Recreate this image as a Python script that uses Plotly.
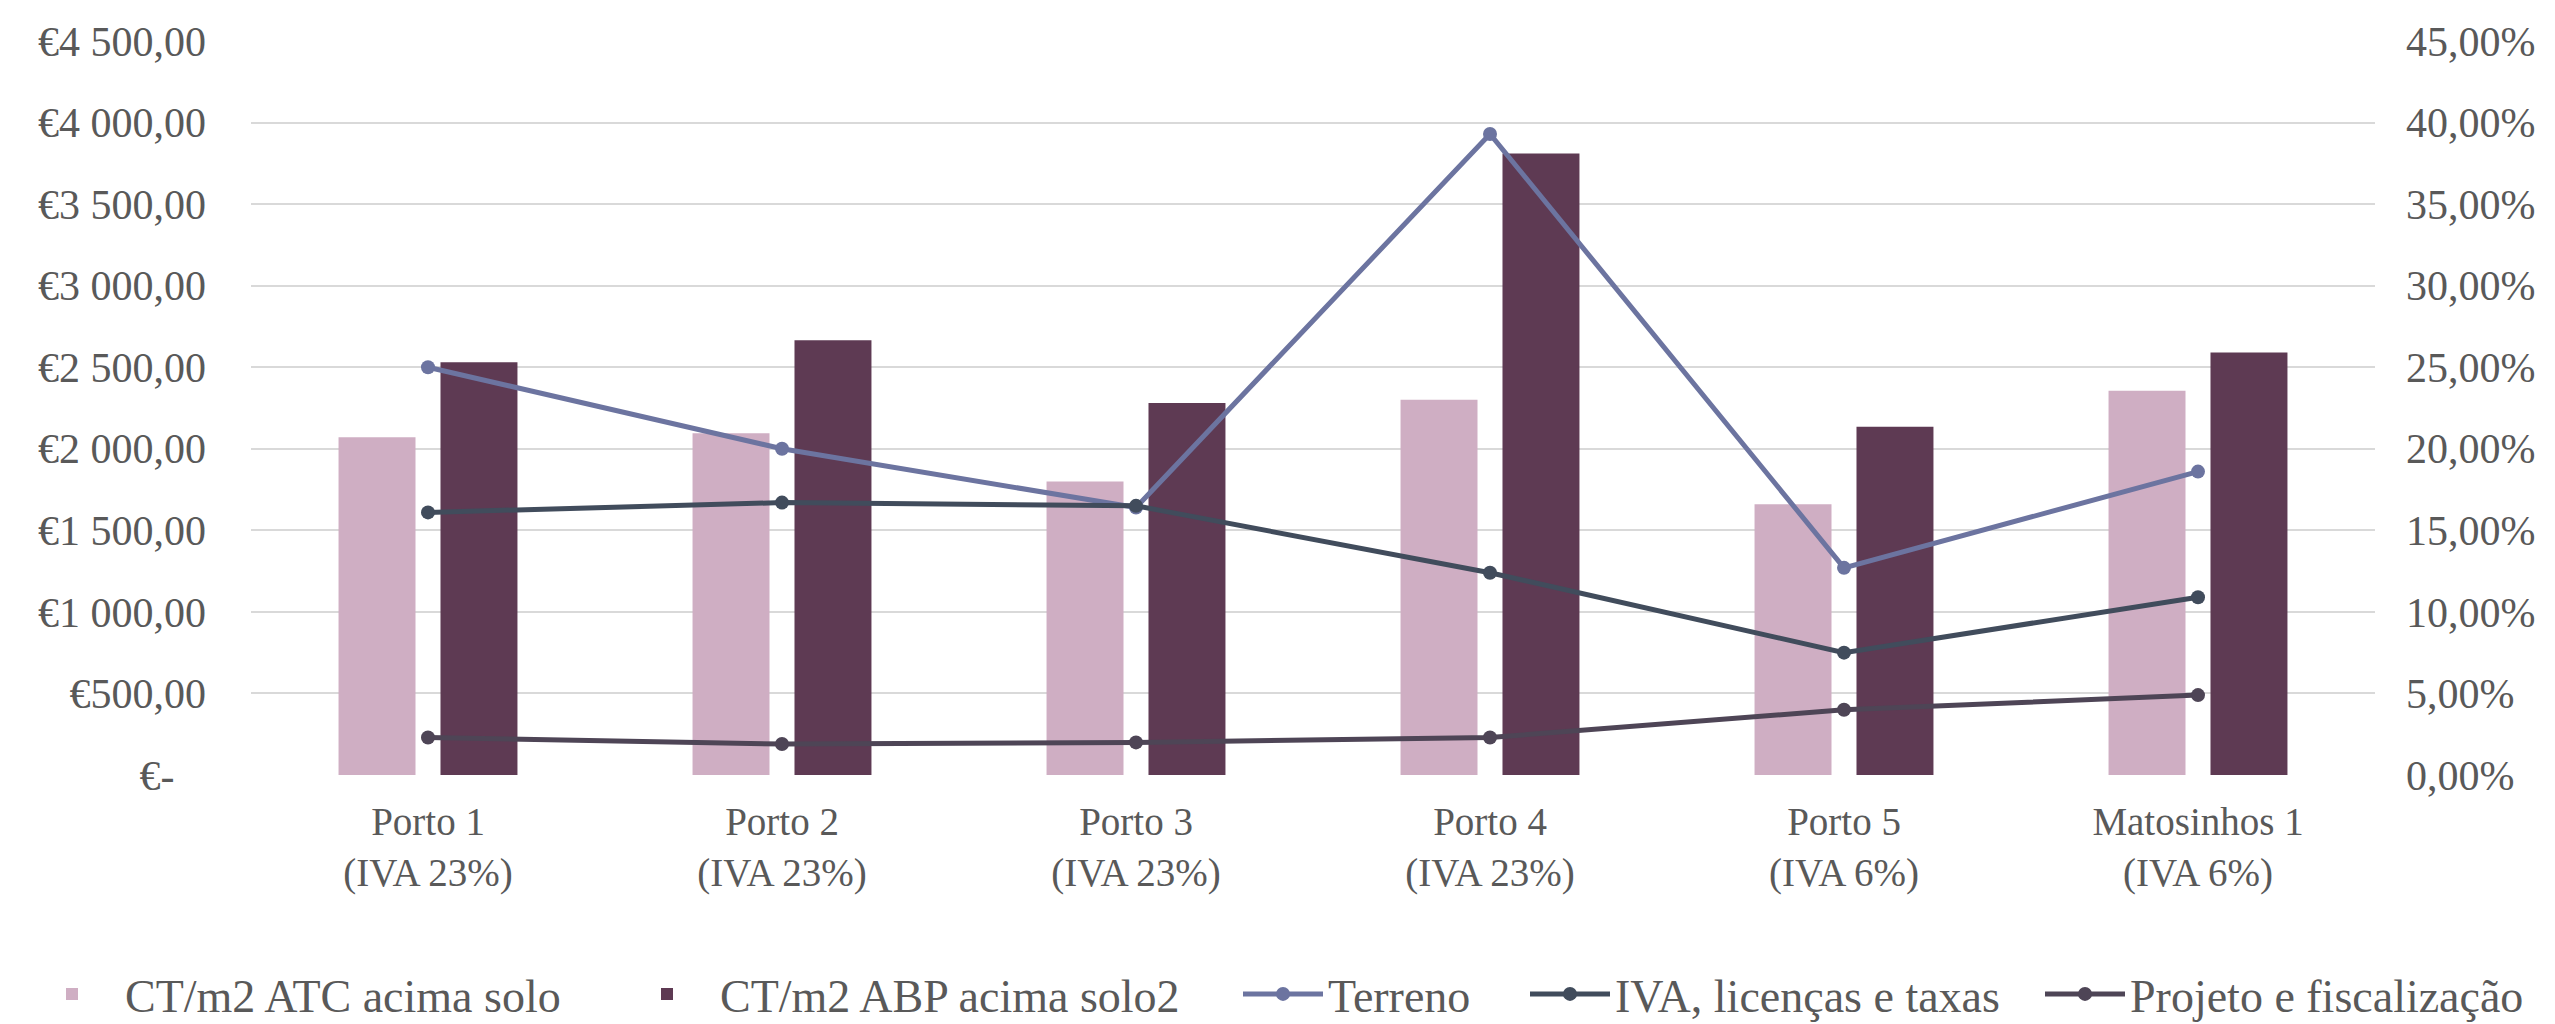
import plotly.graph_objects as go

# Categories (two-line tick labels)
categories = [
    "Porto 1<br>(IVA 23%)",
    "Porto 2<br>(IVA 23%)",
    "Porto 3<br>(IVA 23%)",
    "Porto 4<br>(IVA 23%)",
    "Porto 5<br>(IVA 6%)",
    "Matosinhos 1<br>(IVA 6%)",
]

# Cost per m2 (left axis, €)
ct_atc = [2070, 2095, 1800, 2300, 1660, 2355]
ct_abp = [2530, 2665, 2280, 3810, 2135, 2590]

# Cost shares (right axis, fraction)
terreno = [0.250, 0.200, 0.164, 0.393, 0.127, 0.186]
iva_licencas = [0.161, 0.167, 0.165, 0.124, 0.075, 0.109]
projeto = [0.023, 0.019, 0.020, 0.023, 0.040, 0.049]

# Axis ticks
left_tickvals = [0, 500, 1000, 1500, 2000, 2500, 3000, 3500, 4000, 4500]
left_ticktext = ["€-\u00a0\u00a0\u00a0", "€500,00", "€1 000,00", "€1 500,00", "€2 000,00",
                 "€2 500,00", "€3 000,00", "€3 500,00", "€4 000,00", "€4 500,00"]
right_tickvals = [0, 0.05, 0.10, 0.15, 0.20, 0.25, 0.30, 0.35, 0.40, 0.45]
right_ticktext = ["0,00%", "5,00%", "10,00%", "15,00%", "20,00%",
                  "25,00%", "30,00%", "35,00%", "40,00%", "45,00%"]

W, H = 2555, 1024
FONT = "Liberation Serif"
TXT = "#595959"
TICK_SIZE = 42
XTICK_SIZE = 39
LEG_SIZE = 46

fig = go.Figure()

fig.add_trace(go.Bar(
    x=categories, y=ct_atc, name="CT/m2 ATC acima solo", legend="legend",
    marker=dict(color="#CFAEC3", line=dict(width=0)),
))
fig.add_trace(go.Bar(
    x=categories, y=ct_abp, name="CT/m2 ABP acima solo2", legend="legend2",
    marker=dict(color="#5E3A53", line=dict(width=0)),
))

line_specs = [
    ("Terreno", terreno, "#6C74A0", "legend3"),
    ("IVA, licenças e taxas", iva_licencas, "#414C5C", "legend4"),
    ("Projeto e fiscalização", projeto, "#4E4556", "legend5"),
]
for name, vals, col, leg in line_specs:
    fig.add_trace(go.Scatter(
        x=categories, y=vals, name=name, yaxis="y2", legend=leg,
        mode="lines+markers",
        line=dict(color=col, width=5),
        marker=dict(color=col, size=14, symbol="circle"),
    ))


def legend_box(left_px, item_w):
    """One single-entry legend, placed by its left edge in pixels."""
    return dict(
        orientation="h", xref="container", yref="container",
        x=left_px / W, xanchor="left", y=1 - 994 / H, yanchor="middle",
        font=dict(family=FONT, size=LEG_SIZE, color=TXT),
        itemwidth=item_w, bgcolor="rgba(0,0,0,0)", borderwidth=0,
    )


fig.update_layout(
    width=W, height=H,
    margin=dict(l=251, r=180, t=41, b=249, autoexpand=False),
    paper_bgcolor="white", plot_bgcolor="white",
    font=dict(family=FONT, size=TICK_SIZE, color=TXT),
    barmode="group", bargap=0.424, bargroupgap=0.245,
    showlegend=True,
    legend=legend_box(19, 96),
    legend2=legend_box(614, 96),
    legend3=legend_box(1238, 80),
    legend4=legend_box(1525, 80),
    legend5=legend_box(2040, 80),
    xaxis=dict(
        showgrid=False, showline=False, zeroline=False,
        ticks="", ticklabelstandoff=20,
        tickfont=dict(family=FONT, size=XTICK_SIZE, color=TXT),
    ),
    yaxis=dict(
        range=[0, 4500], tickvals=left_tickvals, ticktext=left_ticktext,
        showgrid=True, gridcolor="#D9D9D9", gridwidth=2,
        zeroline=False, showline=False, ticks="",
        ticklabelstandoff=44,
        tickfont=dict(family=FONT, size=TICK_SIZE, color=TXT),
    ),
    yaxis2=dict(
        range=[0, 0.45], tickvals=right_tickvals, ticktext=right_ticktext,
        overlaying="y", side="right", showgrid=False, zeroline=False,
        showline=False, ticks="", ticklabelstandoff=30,
        tickfont=dict(family=FONT, size=TICK_SIZE, color=TXT),
    ),
)

fig.write_html("out.html")
